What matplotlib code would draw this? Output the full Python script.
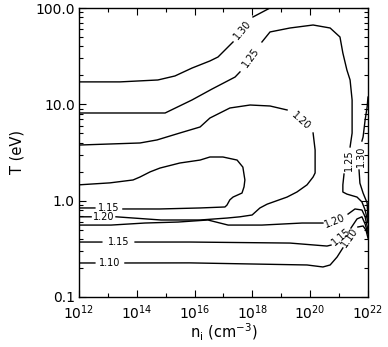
import numpy as np
import matplotlib
matplotlib.use("Agg")
import matplotlib.pyplot as plt
from matplotlib.ticker import FixedLocator, FuncFormatter, NullFormatter

nan = np.nan

# contour lines: log10(n_i) and T (eV); nan = gap for a label
c130_top_logn = [12.0, 13.42, 14.73, 15.32, 15.91, 16.53, 16.81, 17.33, nan, 18.02, 18.61]
c130_top_T = [17.1, 17.1, 17.9, 19.7, 23.8, 28.2, 31.0, 44.4, nan, 80.7, 100.0]

c130_right_logn = [22.0, 21.97, 21.90, 21.83, 21.79, nan, 21.69, 21.72, 21.83, 21.97, 22.0]
c130_right_T = [11.9, 9.38, 6.87, 4.58, 4.16, nan, 2.08, 1.52, 1.20, 0.946, 0.63]

c125_logn = [12.0, 14.98, 15.91, 16.60, 17.40, 17.57, nan, 18.33, 18.61, 19.30, 20.10,
             20.69, 21.03, 21.13, 21.27, 21.38, 21.45, 21.45, 21.38, nan, 21.17, 21.13,
             21.13, 21.27, 21.62, 21.79, 21.90, 22.0]
c125_T = [8.13, 8.13, 11.1, 14.4, 19.2, 21.7, nan, 44.4, 56.4, 62.0, 66.6,
          62.0, 50.0, 34.1, 22.7, 17.9, 11.1, 5.03, 3.61, nan, 1.89, 1.46,
          1.23, 1.17, 1.09, 0.97, 0.80, 0.59]

c120_loop_logn = [12.0, 14.11, 14.70, 15.49, 16.19, 16.53, 17.22, 17.92, 18.61, 19.20, nan,
                  20.10, 20.17, 20.17, 20.10, 19.89, 19.54, 19.20, 18.51, 18.26, 17.99,
                  17.57, 17.12, 16.19, 14.84, 13.28, nan, 12.42, 12.0]
c120_loop_T = [3.78, 3.97, 4.27, 5.04, 5.82, 7.21, 9.16, 9.84, 9.61, 8.74, nan,
               5.04, 3.36, 1.94, 1.76, 1.46, 1.23, 1.09, 0.92, 0.84, 0.71,
               0.68, 0.66, 0.63, 0.63, 0.68, nan, 0.68, 0.68]

c115_loop_logn = [12.0, 13.07, 13.87, 14.11, 14.46, 14.80, 15.49, 16.19, 16.53, 16.98, 17.47,
                  17.67, 17.74, 17.71, 17.64, 17.33, 17.22, 17.12, 17.05, 16.19, 14.80,
                  13.52, nan, 12.55, 12.0]
c115_loop_T = [1.46, 1.53, 1.64, 1.76, 1.99, 2.18, 2.46, 2.64, 2.84, 2.84, 2.64,
               2.23, 1.64, 1.39, 1.20, 1.09, 1.02, 0.90, 0.86, 0.84, 0.82,
               0.82, nan, 0.84, 0.84]

c120_low_logn = [12.0, 13.11, 14.28, 15.43, 16.46, 17.16, 18.33, 19.72, 20.44, nan,
                 21.31, 21.55, 21.79, 21.90, 22.0]
c120_low_T = [0.558, 0.558, 0.586, 0.60, 0.63, 0.558, 0.558, 0.586, 0.586, nan,
              0.726, 0.82, 0.80, 0.68, 0.495]

c115_low_logn = [12.0, 12.79, nan, 13.94, 15.84, 19.30, 20.58, 20.72, nan,
                 21.41, 21.62, 21.79, 21.90, 22.0]
c115_low_T = [0.372, 0.372, nan, 0.372, 0.372, 0.363, 0.338, 0.346, nan,
              0.52, 0.646, 0.68, 0.573, 0.451]

c110_logn = [12.0, 12.55, nan, 13.59, 15.84, 19.89, 20.44, 20.69, 20.93, 21.13, nan,
             21.65, 21.83, 21.93, 22.0]
c110_T = [0.2255, 0.2255, nan, 0.2255, 0.226, 0.215, 0.205, 0.215, 0.260, 0.323, nan,
          0.533, 0.546, 0.495, 0.409]

# contour labels: text, log10(n), T, rotation
label_text = ["1.30", "1.25", "1.20", "1.25", "1.30", "1.15", "1.20", "1.15", "1.10", "1.20", "1.15", "1.10"]
label_logn = [17.67, 17.95, 19.68, 21.34, 21.76, 13.04, 12.87, 13.38, 13.07, 20.86, 21.07, 21.38]
label_T = [59.2, 31.0, 6.72, 2.64, 2.91, 0.83, 0.675, 0.372, 0.2255, 0.61, 0.42, 0.41]
label_rot = [50, 54, -42, 90, 90, 0, 0, 0, 0, 22, 40, 55]

lines = [(c130_top_logn, c130_top_T), (c130_right_logn, c130_right_T),
         (c125_logn, c125_T), (c120_loop_logn, c120_loop_T),
         (c115_loop_logn, c115_loop_T), (c120_low_logn, c120_low_T),
         (c115_low_logn, c115_low_T), (c110_logn, c110_T)]

fig = plt.figure(figsize=(3.88, 3.47), dpi=100)
ax = fig.add_axes([79 / 388, 1 - 297 / 347, 289 / 388, 289 / 347])

for lx, t in lines:
    ax.plot(10 ** np.array(lx), t, color="black", lw=1.0)

for s, lx, t, r in zip(label_text, label_logn, label_T, label_rot):
    ax.text(10 ** lx, t, s, rotation=r, ha="center", va="center",
            fontsize=7, rotation_mode="anchor")

ax.set_xscale("log")
ax.set_yscale("log")
ax.set_xlim(1e12, 1e22)
ax.set_ylim(0.1, 100)

ax.xaxis.set_major_locator(FixedLocator([10.0 ** e for e in range(12, 23, 2)]))
ax.xaxis.set_minor_locator(FixedLocator([10.0 ** e for e in range(13, 22, 2)]))
ax.xaxis.set_major_formatter(FuncFormatter(lambda v, p: r"$10^{%d}$" % round(np.log10(v))))
ax.xaxis.set_minor_formatter(NullFormatter())

ax.yaxis.set_major_locator(FixedLocator([0.1, 1, 10, 100]))
ax.yaxis.set_minor_locator(FixedLocator([m * 10.0 ** e for e in range(-1, 2) for m in range(2, 10)]))
ax.yaxis.set_major_formatter(FuncFormatter(lambda v, p: "%.1f" % v))
ax.yaxis.set_minor_formatter(NullFormatter())

ax.tick_params(which="both", direction="in", top=True, right=True, width=0.8)
ax.tick_params(which="major", length=5, labelsize=10, pad=3)
ax.tick_params(axis="x", which="major", pad=4.5)
ax.tick_params(which="minor", length=3)
for sp in ax.spines.values():
    sp.set_linewidth(1.0)

ax.set_xlabel(r"n$_{\rm i}$ (cm$^{-3}$)", fontsize=10.5)
ax.set_ylabel("T (eV)", fontsize=10.5)
ax.xaxis.set_label_coords(0.5, -0.085)
ax.yaxis.set_label_coords(-0.19, 0.5)

fig.savefig("out.png", dpi=100)
